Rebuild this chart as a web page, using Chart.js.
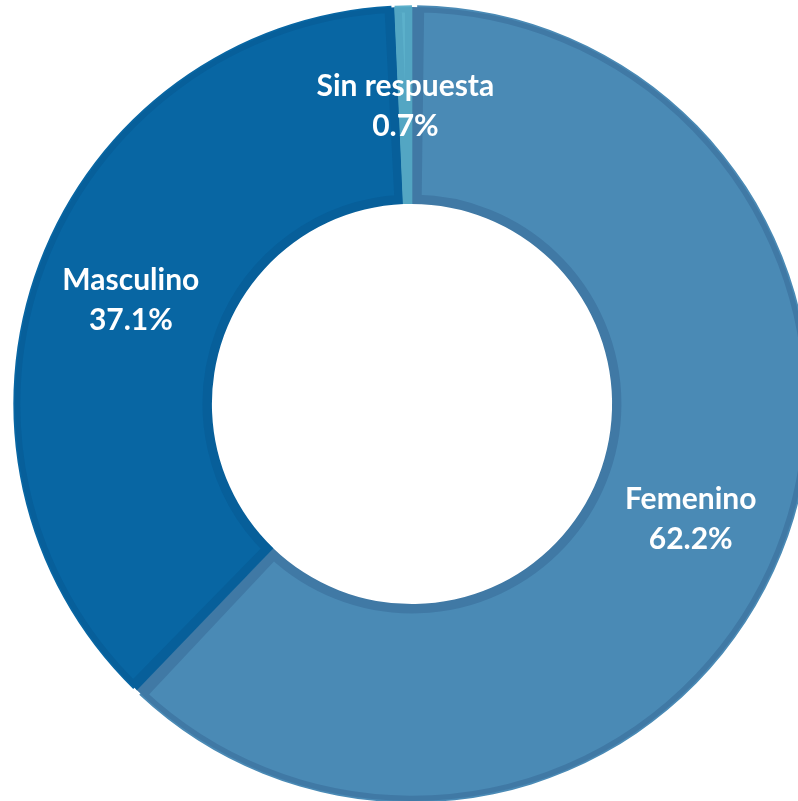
<!DOCTYPE html>
<html>
<head>
<meta charset="utf-8">
<script src="https://cdn.jsdelivr.net/npm/chart.js@4.4.1/dist/chart.umd.min.js"></script>
<style>
  html, body { margin: 0; padding: 0; background: #ffffff; width: 798px; height: 801px; overflow: hidden; }
  #wrap { position: absolute; left: 0; top: 0; width: 824px; height: 808px; }
</style>
</head>
<body>
<div id="wrap"><canvas id="c" width="824" height="808"></canvas></div>
<script>
const categories = ["Femenino", "Masculino", "Sin respuesta"];
const values = [62.2, 37.1, 0.7];
const valueLabels = ["62.2%", "37.1%", "0.7%"];
const fillColors = ["#4a8ab5", "#0866a3", "#5cb0cb"];
const borderColors = ["#4079a5", "#075f9a", "#53a6c3"];

const labelPlugin = {
  id: 'sliceLabels',
  afterDatasetsDraw(chart) {
    const ctx = chart.ctx;
    const meta = chart.getDatasetMeta(0);
    ctx.save();
    ctx.fillStyle = '#ffffff';
    ctx.textAlign = 'center';
    ctx.textBaseline = 'middle';
    ctx.font = 'bold 30px Lato, "Open Sans", sans-serif';
    meta.data.forEach((arc, i) => {
      const p = arc.tooltipPosition();
      ctx.fillText(categories[i], p.x, p.y - 17);
      ctx.fillText(valueLabels[i], p.x, p.y + 23);
    });
    ctx.restore();
  }
};

new Chart(document.getElementById('c'), {
  type: 'doughnut',
  data: {
    labels: categories,
    datasets: [{
      data: values,
      backgroundColor: fillColors,
      borderColor: borderColors,
      borderWidth: 7,
      borderAlign: 'inner',
      spacing: 4
    }]
  },
  options: {
    responsive: false,
    animation: false,
    radius: 397,
    cutout: '50.4%',
    plugins: { legend: { display: false }, tooltip: { enabled: false } }
  },
  plugins: [labelPlugin]
});
</script>
</body>
</html>
